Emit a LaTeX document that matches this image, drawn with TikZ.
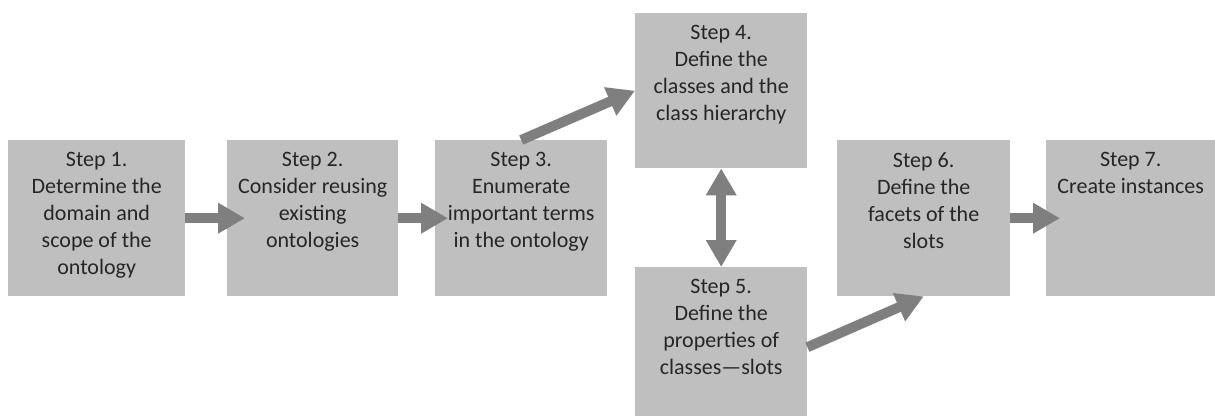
\documentclass[tikz,border=0pt]{standalone}
\usepackage{fontspec}
\setmainfont{Carlito}
\usetikzlibrary{arrows.meta}
\definecolor{boxgray}{HTML}{BFBFBF}
\definecolor{arrgray}{HTML}{7F7F7F}
\definecolor{txtgray}{HTML}{262626}
\tikzset{
  stepbox/.style={draw=none, fill=boxgray, inner sep=0pt, anchor=north west},
  steptext/.style={anchor=north, align=center, inner sep=0pt, text=txtgray,
    font=\fontsize{22}{27}\selectfont},
  flow/.style={draw=arrgray, line width=10pt,
    -{Triangle[length=27pt,width=29pt]}},
  bothflow/.style={draw=arrgray, line width=10pt,
    {Triangle[length=27pt,width=29pt]}-{Triangle[length=27pt,width=29pt]}}
}
\begin{document}
\begin{tikzpicture}[x=1pt,y=-1pt]
\useasboundingbox (0,0) rectangle (1215,415);
\fill[white] (0,0) rectangle (1215,415);
% boxes
\node[stepbox, minimum width=177pt, minimum height=156pt] (s1) at (8,140) {};
\node[stepbox, minimum width=171pt, minimum height=156pt] (s2) at (227,140) {};
\node[stepbox, minimum width=172pt, minimum height=156pt] (s3) at (435,140) {};
\node[stepbox, minimum width=172pt, minimum height=155pt] (s4) at (635,13) {};
\node[stepbox, minimum width=172pt, minimum height=156pt] (s5) at (635,267) {};
\node[stepbox, minimum width=173pt, minimum height=156pt] (s6) at (837,140) {};
\node[stepbox, minimum width=175pt, minimum height=156pt] (s7) at (1046,140) {};
% texts
\node[steptext] (t1) at ([yshift=-12pt]s1.north) {Step 1.\\Determine the\\domain and\\scope of the\\ontology};
\node[steptext] (t2) at ([yshift=-12pt]s2.north) {Step 2.\\Consider reusing\\existing\\ontologies};
\node[steptext] (t3) at ([yshift=-12pt]s3.north) {Step 3.\\Enumerate\\important terms\\in the ontology};
\node[steptext] (t4) at ([yshift=-12pt]s4.north) {Step 4.\\Define the\\classes and the\\class hierarchy};
\node[steptext] (t5) at ([yshift=-12pt]s5.north) {Step 5.\\Define the\\properties of\\classes—slots};
\node[steptext] (t6) at ([yshift=-12pt]s6.north) {Step 6.\\Define the\\facets of the\\slots};
\node[steptext] (t7) at ([xshift=-3pt,yshift=-12pt]s7.north) {Step 7.\\Create instances};
% arrows
\draw[flow] (s1.east) -- ([xshift=18pt]s2.west);
\draw[flow] (s2.east) -- ([xshift=13pt]s3.west);
\draw[flow] (s3.north) -- (s4.west);
\draw[bothflow] (s4.south) -- (s5.north);
\draw[flow] ([yshift=-2pt]s5.east) -- (s6.south);
\draw[flow] (s6.east) -- ([xshift=14pt]s7.west);
\end{tikzpicture}
\end{document}
